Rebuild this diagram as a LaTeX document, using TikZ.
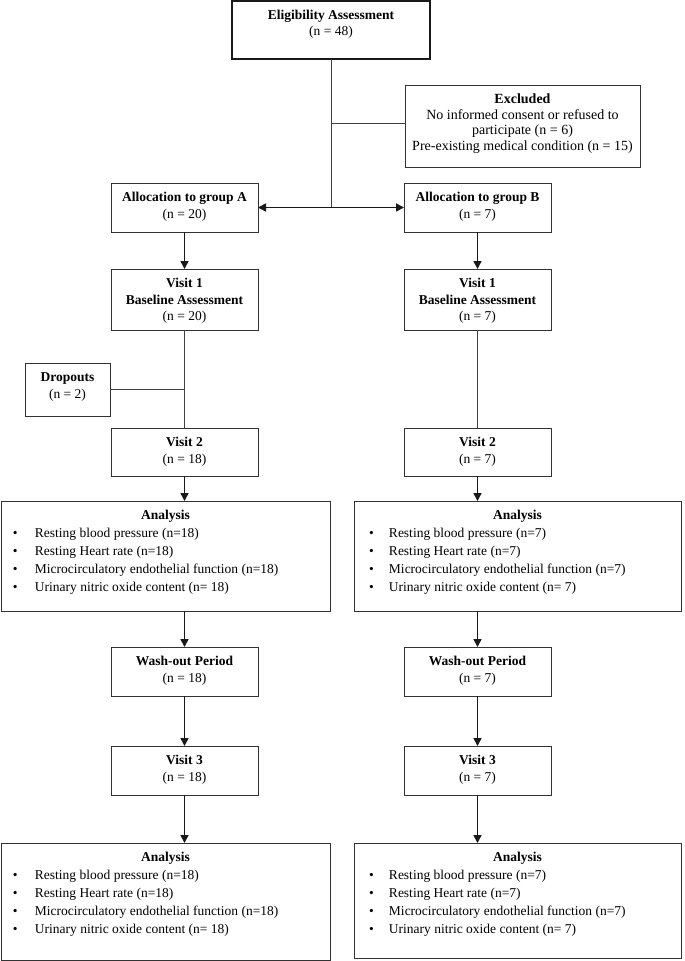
\documentclass[tikz,border=0pt]{standalone}
\usepackage{fontspec}
\setmainfont{Liberation Serif}
\usetikzlibrary{arrows.meta}
\newcommand{\bxc}[3]{\parbox[t][#2][t]{#1}{\fontsize{13.5pt}{16.5pt}\selectfont\centering\rule{0pt}{18.5pt}#3\par}}
\newcommand{\bxe}[3]{\parbox[t][#2][t]{#1}{\fontsize{14pt}{15.5pt}\selectfont\centering\rule{0pt}{18.5pt}#3\par}}
\newcommand{\bitem}[3]{\noindent\hspace*{#1}\makebox[#2][l]{\textbullet}#3\par}
\newcommand{\bxl}[5]{\parbox[t][#2][t]{#1}{\fontsize{13.5pt}{18.1pt}\selectfont{\centering\rule{0pt}{18.5pt}\textbf{Analysis}\par}%
\bitem{#3}{#4}{Resting blood pressure (n=#5)}%
\bitem{#3}{#4}{Resting Heart rate (n=#5)}%
\bitem{#3}{#4}{Microcirculatory endothelial function (n=#5)}%
\bitem{#3}{#4}{Urinary nitric oxide content (n= #5)}}}
\tikzset{
  box/.style={draw=black!80, line width=0.9pt, inner sep=0pt, outer sep=0pt, anchor=north west},
  boxthick/.style={box, draw=black!90, line width=2pt},
  conn/.style={draw=black!75, line width=0.8pt},
  arr/.style={draw=black!90, line width=1.6pt, -{Triangle[length=8pt,width=8pt]}},
  darr/.style={draw=black!90, line width=1.6pt, {Triangle[length=8pt,width=8pt]}-{Triangle[length=8pt,width=8pt]}}
}
\begin{document}
\begin{tikzpicture}[x=1pt,y=1pt]
\useasboundingbox (0,0) rectangle (685,-961);
% top
\node[boxthick] (elig) at (232,-1) {\bxc{198pt}{58pt}{\textbf{Eligibility Assessment}\\(n = 48)}};
\node[box] (excl) at (405,-85) {\bxe{235pt}{82pt}{\textbf{Excluded}\\No informed consent or refused to\\participate (n = 6)\\Pre-existing medical condition (n = 15)}};
\coordinate (exj) at ([yshift=3pt]excl.west);
% group A
\node[box] (allocA) at (111,-183) {\bxc{147pt}{49pt}{\textbf{Allocation to group A}\\(n = 20)}};
\node[box] (v1A) at (111,-269) {\bxc{147pt}{61pt}{\textbf{Visit 1}\\\textbf{Baseline Assessment}\\(n = 20)}};
\node[box] (drop) at (25,-363) {\bxc{85pt}{53pt}{\textbf{Dropouts}\\(n = 2)}};
\node[box] (v2A) at (111,-428) {\bxc{147pt}{48pt}{\textbf{Visit 2}\\(n = 18)}};
\node[box] (anaA) at (1,-501) {\bxl{329pt}{110pt}{12pt}{22pt}{18}};
\node[box] (washA) at (111,-647) {\bxc{147pt}{49pt}{\textbf{Wash-out Period}\\(n = 18)}};
\node[box] (v3A) at (111,-746) {\bxc{147pt}{49pt}{\textbf{Visit 3}\\(n = 18)}};
\node[box] (anbA) at (1,-843) {\bxl{329pt}{117pt}{12pt}{22pt}{18}};
% group B
\node[box] (allocB) at (404,-183) {\bxc{147pt}{49pt}{\textbf{Allocation to group B}\\(n = 7)}};
\node[box] (v1B) at (404,-269) {\bxc{147pt}{61pt}{\textbf{Visit 1}\\\textbf{Baseline Assessment}\\(n = 7)}};
\node[box] (v2B) at (404,-428) {\bxc{147pt}{48pt}{\textbf{Visit 2}\\(n = 7)}};
\node[box] (anaB) at (354,-501) {\bxl{327pt}{110pt}{15pt}{20pt}{7}};
\node[box] (washB) at (404,-647) {\bxc{147pt}{49pt}{\textbf{Wash-out Period}\\(n = 7)}};
\node[box] (v3B) at (404,-746) {\bxc{147pt}{49pt}{\textbf{Visit 3}\\(n = 7)}};
\node[box] (anbB) at (354,-843) {\bxl{327pt}{115pt}{15pt}{20pt}{7}};
% connectors top
\draw[conn] (elig.south) -- (elig.south |- allocA.east);
\draw[conn] (elig.south |- exj) -- (exj);
\draw[darr] (allocA.east) -- (allocB.west);
% group A
\draw[arr] (allocA.south) -- (v1A.north);
\draw[conn] (v1A.south) -- (v2A.north);
\draw[conn] (drop.east) -- (v1A.south |- drop.east);
\draw[arr] (v2A.south) -- (v2A.south |- anaA.north);
\draw[arr] (v2A.south |- anaA.south) -- (washA.north);
\draw[arr] (washA.south) -- (v3A.north);
\draw[arr] (v3A.south) -- (v3A.south |- anbA.north);
% group B
\draw[arr] (allocB.south) -- (v1B.north);
\draw[conn] (v1B.south) -- (v2B.north);
\draw[arr] (v2B.south) -- (v2B.south |- anaB.north);
\draw[arr] (v2B.south |- anaB.south) -- (washB.north);
\draw[arr] (washB.south) -- (v3B.north);
\draw[arr] (v3B.south) -- (v3B.south |- anbB.north);
\end{tikzpicture}
\end{document}
